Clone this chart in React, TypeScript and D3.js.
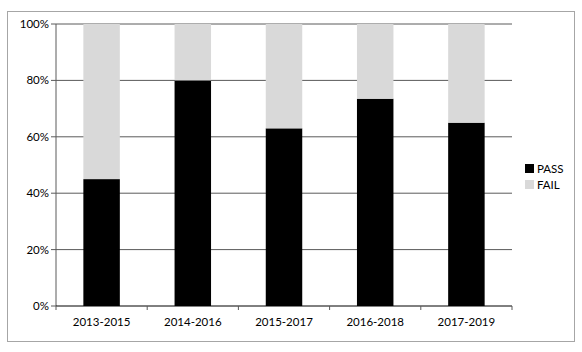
import React from "react";
import * as d3 from "d3";

const categories = ["2013-2015", "2014-2016", "2015-2017", "2016-2018", "2017-2019"];
const passValues = [45, 80, 63, 73.5, 65];
const failValues = [55, 20, 37, 26.5, 35];
const yTicks = [0, 20, 40, 60, 80, 100];
const seriesNames = ["PASS", "FAIL"];
const seriesColors = ["#000000", "#d9d9d9"];

export default function App() {
  const W = 582, H = 352;
  const left = 56, right = 512, top = 24, bottom = 306;
  const x = d3.scaleBand<string>().domain(categories).range([left, right]).padding(0);
  const y = d3.scaleLinear().domain([0, 100]).range([bottom, top]);
  const bw = x.bandwidth() * 0.4;
  const font = "Lato, 'Open Sans', sans-serif";
  const stacked = categories.map((c, i) => ({ c, pass: passValues[i], fail: failValues[i] }));
  const stack = d3.stack<any>().keys(["pass", "fail"])(stacked);
  const edges = [left, ...categories.map((c) => (x(c) as number) + x.bandwidth())];

  return (
    <svg width={W} height={H} style={{ position: "absolute", left: 0, top: 0, background: "#fff" }}>
      <rect x={7.5} y={11.5} width={567} height={330} fill="#fff" stroke="#a6a6a6" strokeWidth={1} />
      {yTicks.map((t) => (
        <g key={t}>
          {t > 0 && <line x1={left} x2={right} y1={y(t)} y2={y(t)} stroke="#5a5a5a" strokeWidth={1} />}
          <line x1={left - 5} x2={left} y1={y(t)} y2={y(t)} stroke="#5a5a5a" strokeWidth={1} />
          <text x={left - 7} y={y(t)} dy="0.35em" textAnchor="end" fontFamily={font} fontSize={11.5} fill="#000">
            {t}%
          </text>
        </g>
      ))}
      {stack.map((layer, li) =>
        layer.map((d, i) => (
          <rect
            key={li + "-" + i}
            x={(x(categories[i]) as number) + (x.bandwidth() - bw) / 2}
            y={y(d[1])}
            width={bw}
            height={y(d[0]) - y(d[1])}
            fill={seriesColors[li]}
          />
        ))
      )}
      <line x1={left} x2={left} y1={top} y2={bottom} stroke="#5a5a5a" strokeWidth={1} />
      <line x1={left} x2={right} y1={bottom} y2={bottom} stroke="#000" strokeWidth={1} />
      {edges.map((e, i) => (
        <line key={i} x1={e} x2={e} y1={bottom} y2={bottom + 4} stroke="#5a5a5a" strokeWidth={1} />
      ))}
      {categories.map((c) => (
        <text key={c} x={(x(c) as number) + x.bandwidth() / 2} y={326} textAnchor="middle" fontFamily={font} fontSize={11.5} fill="#000">
          {c}
        </text>
      ))}
      {seriesNames.map((s, i) => (
        <g key={s}>
          <rect x={525} y={164 + i * 16} width={9} height={9} fill={seriesColors[i]} />
          <text x={537} y={173 + i * 16} fontFamily={font} fontSize={11.5} fill="#000">
            {s}
          </text>
        </g>
      ))}
    </svg>
  );
}
